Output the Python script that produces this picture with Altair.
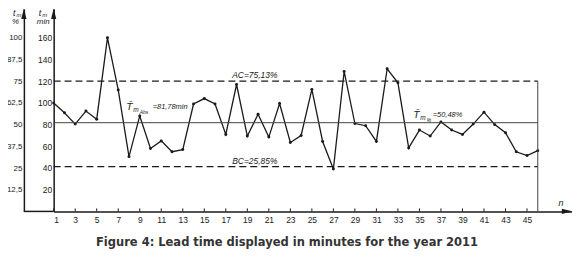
import altair as alt
import pandas as pd

# ---------------- data ----------------
n_values = list(range(1, 47))
lead_time_min = [100, 91, 80.5, 92.5, 85, 160, 112, 50.5, 88, 58,
                 65, 55, 57, 99, 104, 99, 71, 117, 69.5, 89.5,
                 68.5, 99.5, 63.5, 70, 112.5, 64.5, 39, 129, 81, 79,
                 64.5, 131.5, 118.5, 58.5, 75, 69.5, 82.5, 75, 71, 80.5,
                 91.5, 80, 72.5, 55, 51.5, 56]
x_tick_values = list(range(1, 46, 2))
min_axis_values = [20, 40, 60, 80, 100, 120, 140, 160]
pct_axis_values = [12.5, 25, 37.5, 50, 62.5, 75, 87.5, 100]
ac_min = 120.2      # AC = 75,13 %
mean_min = 81.78    # mean = 81,78 min
bc_min = 41.36      # BC = 25,85 %
last_n = 46
pct_per_min = 100 / 160

# ---------------- layout ----------------
W, H = 522, 204
X_MAX = 1 + W / 10.834
Y_MAX = H / 1.0925
PCT_OFF = 30
FONT = "Liberation Sans"
INK = "#1a1a1a"

xs = alt.Scale(domain=[1, X_MAX], nice=False, zero=False)
ys = alt.Scale(domain=[0, Y_MAX], nice=False, zero=False)
ps = alt.Scale(domain=[0, Y_MAX * pct_per_min], nice=False, zero=False)

df = pd.DataFrame({"n": n_values, "t": lead_time_min})

x_axis = alt.Axis(orient="bottom", values=x_tick_values, ticks=False, tickSize=0,
                  labelPadding=4, grid=False, title=None, domainColor=INK,
                  domainWidth=1.5, labelFont=FONT, labelFontSize=8.5,
                  labelColor=INK, labelOverlap=False, labelSeparation=0)
y_axis = alt.Axis(orient="left", values=min_axis_values, ticks=False, tickSize=0,
                  labelPadding=2, grid=False, title=None, domainColor=INK,
                  domainWidth=1.5, labelFont=FONT, labelFontSize=8.5, labelColor=INK,
                  labelOverlap=False)
p_axis = alt.Axis(orient="left", offset=PCT_OFF, values=pct_axis_values, ticks=False,
                  tickSize=0, labelPadding=2, grid=False, title=None,
                  domainColor=INK, domainWidth=1.5, labelFont=FONT,
                  labelFontSize=8, labelColor=INK, labelOverlap=False,
                  labelExpr="replace(toString(datum.value), '.', ',')")

line = alt.Chart(df).mark_line(color=INK, strokeWidth=1.3).encode(
    x=alt.X("n:Q", scale=xs, axis=x_axis),
    y=alt.Y("t:Q", scale=ys, axis=y_axis),
)
pts = alt.Chart(df).mark_point(filled=True, size=9, color=INK, opacity=1).encode(
    x=alt.X("n:Q", scale=xs, axis=x_axis),
    y=alt.Y("t:Q", scale=ys, axis=None),
)

pct_df = pd.DataFrame({"n": [1] * len(pct_axis_values), "p": pct_axis_values})
pct_layer = alt.Chart(pct_df).mark_point(opacity=0).encode(
    x=alt.X("n:Q", scale=xs, axis=x_axis),
    y=alt.Y("p:Q", scale=ps, axis=p_axis),
)

lines_df = pd.DataFrame({
    "kind": ["AC", "BC", "mean"],
    "v": [ac_min, bc_min, mean_min],
    "n0": [1, 1, 1],
    "n1": [last_n, last_n, last_n],
})
dashed = alt.Chart(lines_df[lines_df.kind != "mean"]).mark_rule(
    color=INK, strokeWidth=1.3, strokeDash=[7, 4]).encode(
    x=alt.X("n0:Q", scale=xs, axis=x_axis), x2="n1:Q",
    y=alt.Y("v:Q", scale=ys, axis=None))
mean_rule = alt.Chart(lines_df[lines_df.kind == "mean"]).mark_rule(
    color="#444", strokeWidth=1).encode(
    x=alt.X("n0:Q", scale=xs, axis=x_axis), x2="n1:Q",
    y=alt.Y("v:Q", scale=ys, axis=None))
right_df = pd.DataFrame({"n": [last_n], "v0": [0], "v1": [ac_min]})
right_rule = alt.Chart(right_df).mark_rule(color="#444", strokeWidth=1).encode(
    x=alt.X("n:Q", scale=xs, axis=x_axis),
    y=alt.Y("v0:Q", scale=ys, axis=None), y2="v1:Q")

tick_df = pd.DataFrame({"n": x_tick_values})
x_ticks = alt.Chart(tick_df).mark_rule(color=INK, strokeWidth=1).encode(
    x=alt.X("n:Q", scale=xs, axis=x_axis), y=alt.value(H), y2=alt.value(H - 3))

axis_ext = alt.Chart(pd.DataFrame({"a": [0]})).mark_rule(color=INK, strokeWidth=1.5).encode(
    x=alt.value(-PCT_OFF), x2=alt.value(0), y=alt.value(H))

up_arrow = "M0,-1L0.5,1L-0.5,1Z"
right_arrow = "M1,0L-1,-0.5L-1,0.5Z"
arr_df = pd.DataFrame({"n": [1], "v": [Y_MAX]})
arrow_min = alt.Chart(arr_df).mark_point(shape=up_arrow, filled=True, size=110,
                                         color=INK, opacity=1, yOffset=5).encode(
    x=alt.X("n:Q", scale=xs, axis=x_axis), y=alt.Y("v:Q", scale=ys, axis=None))
arrow_pct = alt.Chart(arr_df).mark_point(shape=up_arrow, filled=True, size=110,
                                         color=INK, opacity=1, yOffset=5,
                                         xOffset=-PCT_OFF).encode(
    x=alt.X("n:Q", scale=xs, axis=x_axis), y=alt.Y("v:Q", scale=ys, axis=None))
xarr_df = pd.DataFrame({"n": [X_MAX], "v": [0]})
arrow_x = alt.Chart(xarr_df).mark_point(shape=right_arrow, filled=True, size=110,
                                        color=INK, opacity=1, xOffset=-5).encode(
    x=alt.X("n:Q", scale=xs, axis=x_axis), y=alt.Y("v:Q", scale=ys, axis=None))


def data_label(n, v, parts, align="left"):
    d = pd.DataFrame({"n": [n], "v": [v]})
    out = []
    for text, size, dx, dy, font in parts:
        out.append(alt.Chart(d).mark_text(text=text, fontSize=size, dx=dx, dy=dy,
                                          align=align, baseline="middle",
                                          fontStyle="italic", font=font, color=INK).encode(
            x=alt.X("n:Q", scale=xs, axis=x_axis), y=alt.Y("v:Q", scale=ys, axis=None)))
    return out


def pixel_label(px, py, parts, align="left"):
    out = []
    for text, size, dx, dy in parts:
        out.append(alt.Chart(pd.DataFrame({"a": [0]})).mark_text(
            text=text, fontSize=size, dx=dx, dy=dy, align=align, baseline="middle",
            fontStyle="italic", font=FONT, color=INK).encode(
            x=alt.value(px), y=alt.value(py)))
    return out


labels = []
labels += data_label(19.7, ac_min, [("AC=75,13%", 8.5, 0, -6, FONT)], align="center")
labels += data_label(19.7, bc_min, [("BC=25,85%", 8.5, 0, -6, FONT)], align="center")
labels += data_label(7.80, 96.5, [("T\u0304", 9.5, 0, 0, "DejaVu Sans"),
                                   ("m", 6.5, 6.5, 3, FONT),
                                   ("Abs", 5, 13, 5, FONT),
                                   ("=81,78min", 7.5, 26, 0, FONT)])
labels += data_label(34.48, 89.2, [("T\u0304", 9.5, 0, 0, "DejaVu Sans"),
                                    ("m", 6.5, 6.5, 3, FONT),
                                    ("%", 5, 13, 5, FONT),
                                    ("=50,48%", 7.5, 19, 0, FONT)])

titles = []
titles += pixel_label(-PCT_OFF - 11, 4, [("t", 9, 0, 0), ("m", 6, 3.5, 2)])
titles += pixel_label(-PCT_OFF - 12, 13, [("%", 8, 0, 0)])
titles += pixel_label(-15, 4, [("t", 9, 0, 0), ("m", 6, 3.5, 2)])
titles += pixel_label(-17, 13, [("min", 8, 0, 0)])
titles += pixel_label(511, 196, [("n", 9, 0, 0)], align="center")

caption = alt.Chart(pd.DataFrame({"a": [0]})).mark_text(
    text="Figure 4: Lead time displayed in minutes for the year 2011",
    font="DejaVu Sans", fontSize=11.6, fontWeight="bold", color="#333",
    align="center", baseline="middle").encode(x=alt.value(235), y=alt.value(236))

chart = alt.layer(
    line, pts, pct_layer, axis_ext, x_ticks, dashed, mean_rule, right_rule,
    arrow_min, arrow_pct, arrow_x, *labels, *titles, caption
).resolve_scale(y="independent").properties(
    width=W, height=H,
    autosize=alt.AutoSizeParams(type="none"),
    padding={"left": 46, "top": 0, "right": 0, "bottom": 38},
    background="white",
).configure_view(stroke=None).configure_axis(labelOverlap=False)

chart.save("out.html", embed_options={"renderer": "svg", "actions": False})
